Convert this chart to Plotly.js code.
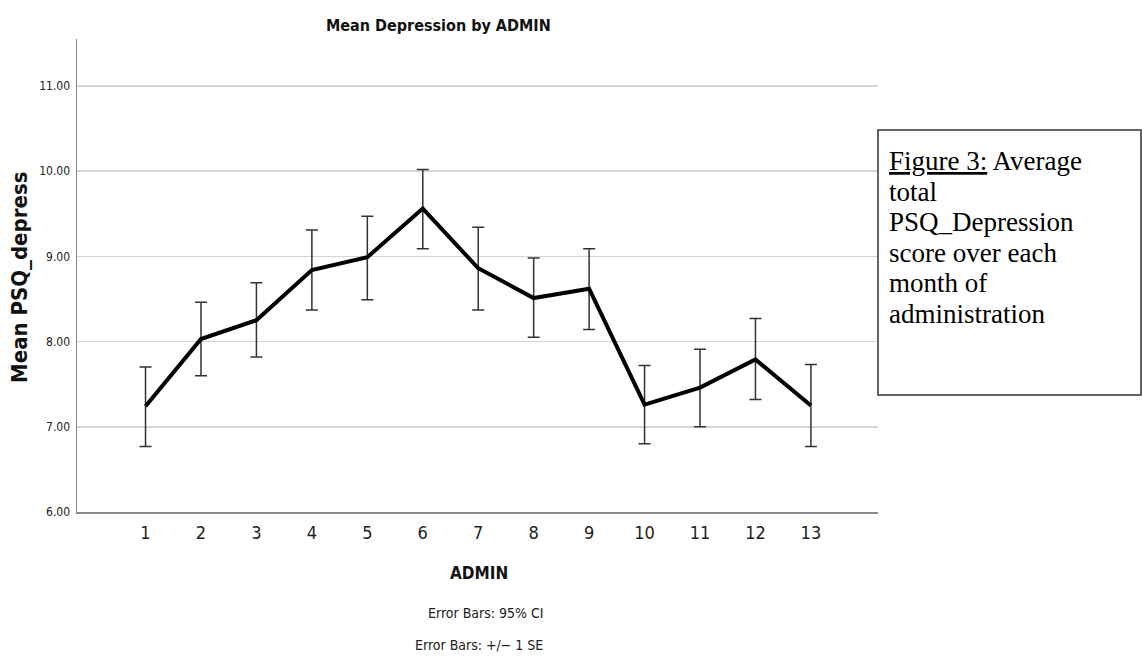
<!DOCTYPE html>
<html>
<head>
<meta charset="utf-8">
<script src="https://cdn.plot.ly/plotly-3.0.1.min.js"></script>
<style>html,body{margin:0;padding:0;background:#fff;}#chart{width:1142px;height:658px;}</style>
</head>
<body>
<div id="chart"></div>
<script>
// Data
var admin = [1, 2, 3, 4, 5, 6, 7, 8, 9, 10, 11, 12, 13];
var meanDepress = [7.24, 8.03, 8.25, 8.84, 8.99, 9.56, 8.86, 8.51, 8.62, 7.26, 7.46, 7.79, 7.25];
var upperCI = [7.70, 8.46, 8.69, 9.31, 9.47, 10.02, 9.34, 8.98, 9.09, 7.72, 7.91, 8.27, 7.73];
var lowerCI = [6.77, 7.60, 7.82, 8.37, 8.49, 9.09, 8.37, 8.05, 8.14, 6.80, 7.00, 7.32, 6.77];
var yTickVals = [6, 7, 8, 9, 10, 11];
var yTickText = ['6.00', '7.00', '8.00', '9.00', '10.00', '11.00'];
var captionLines = ['<span style="text-decoration:underline">Figure 3:</span> Average', 'total', 'PSQ_Depression', 'score over each', 'month of', 'administration'];

var errPlus = upperCI.map(function (u, i) { return u - meanDepress[i]; });
var errMinus = lowerCI.map(function (l, i) { return meanDepress[i] - l; });

var SANS = '"DejaVu Sans Condensed", "Liberation Sans Narrow", "DejaVu Sans", sans-serif';
var SERIF = '"Liberation Serif", "Times New Roman", serif';

var W = 1142, H = 658, L = 77, R = 878, T = 39, B = 512;
function px(x) { return (x - L) / (R - L); }
function py(y) { return (B - y) / (B - T); }

var trace = {
  x: admin,
  y: meanDepress,
  type: 'scatter',
  mode: 'lines',
  line: { color: '#000000', width: 4 },
  error_y: {
    type: 'data', symmetric: false,
    array: errPlus, arrayminus: errMinus,
    color: '#333333', thickness: 1.5, width: 6
  },
  hoverinfo: 'skip'
};

var annotations = [
  { text: '<b>Mean Depression by ADMIN</b>', x: px(438), y: py(25), font: { family: SANS, size: 16, color: '#111' } },
  { text: '<b>Mean PSQ_depress</b>', x: px(19), y: py(278), textangle: -90, font: { family: SANS, size: 22, color: '#111' } },
  { text: '<b>ADMIN</b>', x: px(479), y: py(573), font: { family: SANS, size: 17, color: '#111' } },
  { text: 'Error Bars: 95% CI', x: px(485), y: py(613), font: { family: SANS, size: 14, color: '#222' } },
  { text: 'Error Bars: +/\u2212 1 SE', x: px(479), y: py(645), font: { family: SANS, size: 14, color: '#222' } }
].map(function (a) {
  return Object.assign({ xref: 'paper', yref: 'paper', showarrow: false, xanchor: 'center', yanchor: 'middle' }, a);
});

var lineCenters = [161, 191.5, 222, 252.5, 283, 313.5];
captionLines.forEach(function (t, i) {
  annotations.push({
    text: t, xref: 'paper', yref: 'paper', x: px(888), y: py(lineCenters[i]),
    xanchor: 'left', yanchor: 'middle', showarrow: false, align: 'left', borderpad: 0,
    font: { family: SERIF, size: 27, color: '#000' }
  });
});

var layout = {
  width: W, height: H,
  margin: { l: L, r: W - R, t: T, b: H - B, pad: 0 },
  paper_bgcolor: '#ffffff', plot_bgcolor: '#ffffff',
  showlegend: false,
  xaxis: {
    range: [-0.236, 14.21], tickvals: admin, ticktext: admin.map(String),
    showgrid: false, zeroline: false, showline: true, linecolor: '#888888', linewidth: 1.5,
    ticks: '', ticklabelstandoff: 4,
    tickfont: { family: SANS, size: 18, color: '#222' }
  },
  yaxis: {
    range: [6, 11.55], tickvals: yTickVals, ticktext: yTickText,
    showgrid: true, gridcolor: '#d4d4d4', gridwidth: 1.5,
    zeroline: false, showline: true, linecolor: '#888888', linewidth: 1.5,
    ticks: '', ticklabelstandoff: 3,
    tickfont: { family: SANS, size: 12, color: '#222' }
  },
  shapes: [{
    type: 'rect', xref: 'paper', yref: 'paper',
    x0: px(878), x1: px(1141), y0: py(395), y1: py(130),
    line: { color: '#333333', width: 1.5 }, fillcolor: 'rgba(0,0,0,0)'
  }],
  annotations: annotations
};

Plotly.newPlot('chart', [trace], layout, { staticPlot: true, displayModeBar: false });
</script>
</body>
</html>
